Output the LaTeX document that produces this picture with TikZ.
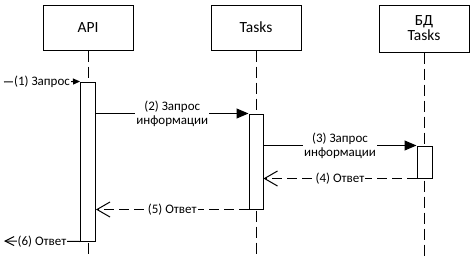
\documentclass[tikz,border=0pt]{standalone}
\usepackage{fontspec}
\setmainfont{Carlito}
\usetikzlibrary{arrows.meta}
\begin{document}
\begin{tikzpicture}[x=1pt,y=1pt,
  box/.style={draw, line width=1pt, minimum width=90pt, inner sep=0pt, font=\fontsize{15.5}{17}\selectfont, align=center},
  life/.style={line width=1pt, dash pattern=on 11pt off 5pt},
  actbar/.style={draw, fill=white, line width=1pt, minimum width=15pt, inner sep=0pt},
  msg/.style={line width=1pt},
  ret/.style={line width=1pt, dash pattern=on 10pt off 5pt},
  lbl/.style={fill=white, inner sep=1pt, font=\fontsize{13}{14}\selectfont, align=center},
  filltip/.style={-{Triangle[length=12pt,width=10pt]}},
  opentip/.style={-{Straight Barb[length=13pt,width=15pt]}}
]
\useasboundingbox (0,0) rectangle (474,-257);
% heads
\node[box, minimum height=45pt] (api) at (88,-27.5) {API};
\node[box, minimum height=45pt] (tasks) at (256,-27.5) {Tasks};
\node[box, minimum height=47pt] (db) at (424,-28.5) {БД\\[-2pt]Tasks};
% lifelines
\coordinate (apiend) at (88,-257);
\coordinate (tasksend) at (256,-257);
\coordinate (dbend) at (424,-257);
\draw[life] (api.south) -- (apiend);
\draw[life] (tasks.south) -- (tasksend);
\draw[life] (db.south) -- (dbend);
% activation bars
\node[actbar, minimum height=159pt] (apiact) at (88,-161.5) {};
\node[actbar, minimum width=14pt, minimum height=95pt] (tasksact) at (256,-161.5) {};
\node[actbar, minimum height=32pt] (dbact) at (424.5,-162) {};
% messages
\coordinate (m1s) at (4,-82);
\draw[msg, -{Triangle[length=7pt,width=6pt]}] (m1s) -- (apiact.north west) node[midway, lbl] {(1) Запрос};
\draw[msg, filltip] (apiact.east |- tasksact.north) -- (tasksact.north west) node[midway, lbl] {(2) Запрос\\информации};
\draw[msg, filltip] (tasksact.east |- dbact.north) -- (dbact.north west) node[midway, lbl] {(3) Запрос\\информации};
\draw[ret, opentip] (dbact.south west) -- (tasksact.east |- dbact.south) node[midway, lbl] {(4) Ответ};
\draw[ret, opentip] (tasksact.south west) -- (apiact.east |- tasksact.south) node[midway, lbl] {(5) Ответ};
\coordinate (m6e) at (4,-241);
\draw[msg, -{Straight Barb[length=9pt,width=9pt]}] (apiact.south west) -- (m6e) node[midway, lbl] {(6) Ответ};
\end{tikzpicture}
\end{document}
